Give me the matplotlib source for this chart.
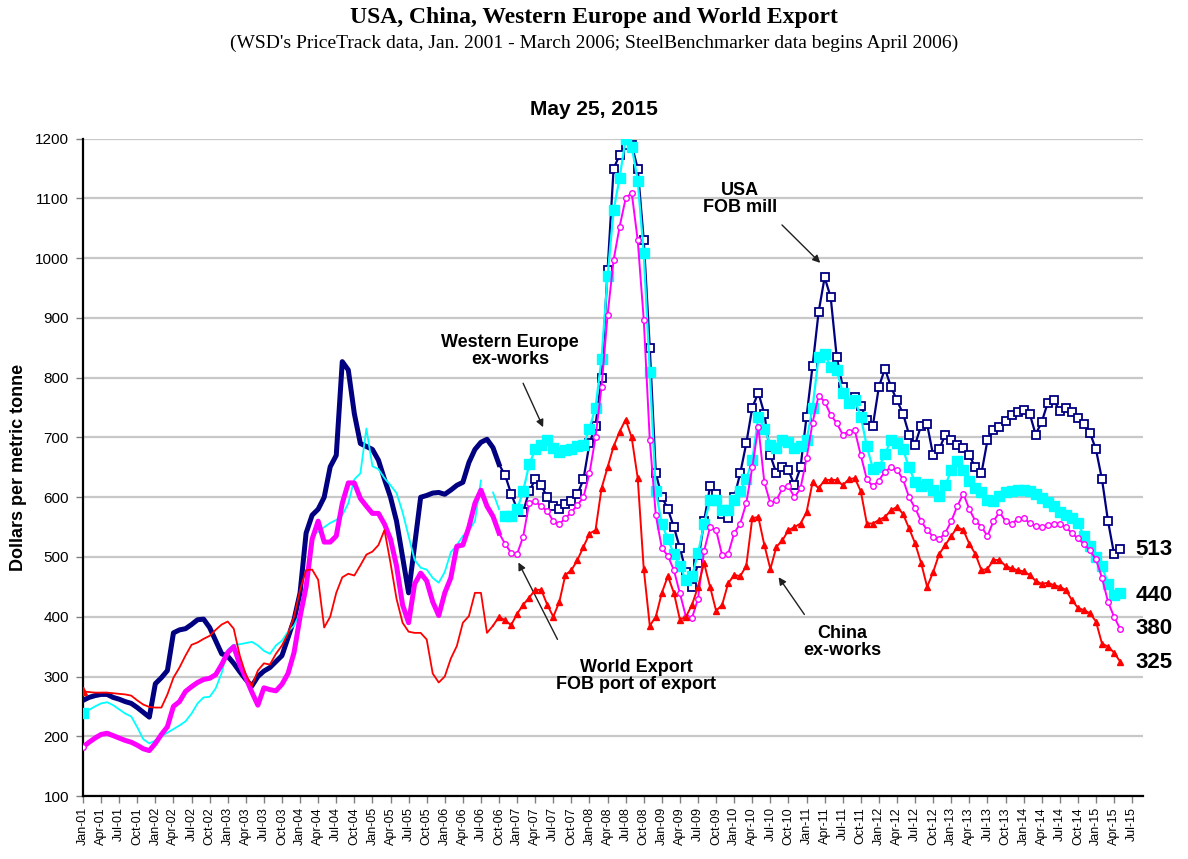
import matplotlib.pyplot as plt
import numpy as np

plt.rcParams['font.family'] = ['Liberation Sans', 'DejaVu Sans']

# monthly index: 0 = Jan-01 ... 172 = May-15
month_names = ['Jan', 'Feb', 'Mar', 'Apr', 'May', 'Jun',
               'Jul', 'Aug', 'Sep', 'Oct', 'Nov', 'Dec']
months = np.arange(173)
tick_months = np.arange(0, 175, 3)
tick_labels = ['%s-%02d' % (month_names[m % 12], m // 12 + 1) for m in tick_months]

usa = [260, 265, 268, 270, 270, 265, 262, 258, 255, 248, 240, 232,
       288, 298, 310, 373, 378, 380, 387, 395, 396, 382, 360, 338,
       334, 322, 308, 295, 284, 300, 309, 315, 325, 335, 365, 395,
       440, 540, 570, 580, 600, 651, 670, 827, 813, 740, 690, 685,
       680, 662, 630, 600, 560, 500, 440, 520, 600, 603, 607, 608,
       605, 612, 620, 625, 658, 680, 692, 697, 683, 655, 637, 606,
       580, 576, 610, 630, 620, 600, 585, 580, 588, 594, 605, 630,
       690, 720, 800, 980, 1150, 1173, 1189, 1190, 1150, 1030, 850, 640,
       601, 580, 550, 515, 475, 450, 490, 560, 618, 605, 572, 565,
       600, 640, 690, 750, 775, 740, 670, 640, 650, 645, 620, 650,
       735, 820, 910, 968, 935, 835, 785, 757, 768, 752, 730, 720,
       785, 815, 785, 762, 740, 705, 688, 720, 722, 670, 680, 705,
       695, 688, 682, 670, 650, 640, 695, 712, 718, 728, 738, 742,
       746, 740, 705, 726, 758, 762, 745, 750, 742, 732, 722, 708,
       680, 630, 560, 505, 513]

w_europe = [239, 244, 250, 255, 257, 252, 245, 238, 233, 215, 195, 188,
            193, 200, 206, 212, 218, 225, 238, 255, 265, 266, 280, 306,
            345, 353, 354, 356, 358, 352, 343, 338, 352, 360, 375, 385,
            406, 455, 536, 542, 550, 557, 562, 570, 590, 630, 640, 715,
            652, 647, 632, 620, 607, 575, 535, 495, 482, 479, 465, 457,
            475, 508, 520, 535, 545, 560, 628, np.nan, 608, 580, 568, 568,
            580, 610, 655, 680, 688, 695, 682, 676, 679, 681, 685, 687,
            715, 750, 832, 970, 1080, 1135, 1200, 1187, 1130, 1008, 810, 610,
            555, 530, 505, 485, 461, 468, 506, 555, 595, 595, 578, 578,
            595, 610, 630, 662, 735, 715, 688, 682, 695, 692, 682, 685,
            695, 750, 835, 840, 818, 813, 775, 758, 763, 735, 685, 648,
            650, 672, 696, 690, 680, 650, 625, 618, 622, 612, 602, 620,
            645, 660, 645, 628, 615, 608, 595, 593, 602, 608, 610, 612,
            612, 610, 606, 598, 592, 585, 575, 570, 565, 557, 535, 518,
            500, 485, 455, 437, 440]

world_export = [182, 190, 197, 203, 205, 201, 197, 193, 190, 185, 179, 176,
                188, 203, 216, 250, 258, 275, 283, 290, 295, 297, 303, 320,
                340, 350, 320, 298, 274, 252, 281, 278, 276, 287, 305, 340,
                400, 450, 530, 560, 525, 525, 535, 590, 624, 624, 598, 585,
                573, 573, 555, 530, 485, 420, 390, 455, 473, 460, 425, 402,
                440, 465, 518, 520, 550, 590, 612, 585, 568, 540, 522, 507,
                505, 534, 590, 593, 585, 577, 560, 555, 565, 575, 587, 600,
                640, 700, 785, 905, 997, 1053, 1100, 1110, 1030, 897, 696, 570,
                515, 502, 478, 439, 400, 398, 430, 510, 550, 545, 503, 505,
                540, 556, 590, 650, 718, 625, 590, 595, 615, 618, 600, 615,
                665, 725, 770, 760, 738, 724, 705, 710, 712, 670, 630, 618,
                628, 643, 650, 646, 630, 600, 582, 560, 545, 534, 530, 540,
                560, 585, 606, 580, 560, 551, 535, 560, 575, 560, 556, 563,
                565, 557, 552, 551, 553, 555, 556, 550, 540, 531, 522, 511,
                496, 465, 425, 400, 380]

china = [275, 274, 273, 273, 273, 272, 271, 270, 268, 260, 253, 249,
         248, 248, 270, 298, 315, 335, 353, 357, 363, 368, 378, 387,
         392, 380, 335, 303, 284, 310, 322, 320, 338, 352, 372, 400,
         445, 478, 479, 462, 382, 400, 440, 466, 472, 469, 486, 504,
         509, 520, 545, 490, 430, 390, 375, 373, 373, 362, 305, 290,
         300, 330, 351, 390, 401, 440, 440, 373, 385, 400, 394, 386,
         405, 420, 432, 445, 445, 420, 400, 425, 470, 478, 495, 517,
         539, 545, 615, 650, 685, 710, 730, 700, 632, 480, 385, 400,
         440, 468, 440, 395, 400, 420, 450, 490, 450, 410, 420, 456,
         470, 468, 485, 565, 567, 520, 480, 517, 528, 545, 550, 556,
         575, 625, 615, 629, 629, 629, 620, 630, 632, 610, 556, 556,
         562, 567, 578, 584, 572, 548, 523, 490, 450, 475, 505, 520,
         535, 550, 545, 522, 505, 478, 480, 495, 495, 485, 481, 478,
         476, 470, 460, 455, 457, 453, 450, 445, 428, 415, 411, 406,
         392, 355, 350, 340, 325]

end_labels = ['513', '440', '380', '325']
end_label_y = [513, 435, 380, 323]

usa = np.array(usa, dtype=float)
w_europe = np.array(w_europe, dtype=float)
world_export = np.array(world_export, dtype=float)
china = np.array(china, dtype=float)

fig = plt.figure(figsize=(11.88, 8.59), dpi=100)
ax = fig.add_axes([83 / 1188, 1 - 796 / 859, 1060 / 1188, (796 - 138.75) / 859])

navy = '#000080'
cyan = '#00FFFF'
magenta = '#FF00FF'
red = '#FF0000'

# USA: thick line (WSD), then hollow squares (SteelBenchmarker)
ax.plot(months[:70], usa[:70], color=navy, lw=3.6, solid_joinstyle='round', zorder=3)
ax.plot(months[69:], usa[69:], color=navy, lw=1.6, marker='s', ms=5.5,
        mfc='white', mec=navy, mew=1.3, markevery=slice(1, None), zorder=3)

# Western Europe
ax.plot(months[:70], w_europe[:70], color=cyan, lw=1.3, zorder=4)
ax.plot(months[:1], w_europe[:1], color=cyan, marker='s', ms=6.5, ls='none', zorder=4)
ax.plot(months[70:], w_europe[70:], color=cyan, lw=1.6, marker='s', ms=6.5,
        mfc=cyan, mec=cyan, zorder=4)

# World export
ax.plot(months[:70], world_export[:70], color=magenta, lw=3.6, solid_joinstyle='round', zorder=5)
ax.plot(months[:1], world_export[:1], color=magenta, marker='o', ms=4, mfc='white',
        mec=magenta, ls='none', zorder=5)
ax.plot(months[69:], world_export[69:], color=magenta, lw=1.4, marker='o', ms=4,
        mfc='white', mec=magenta, mew=1.0, markevery=slice(1, None), zorder=5)

# China
ax.plot(months[:69], china[:69], color=red, lw=1.3, zorder=6)
ax.plot(months[:1], china[:1], color=red, marker='^', ms=5.5, ls='none', zorder=6)
ax.plot(months[68:], china[68:], color=red, lw=1.4, marker='^', ms=5,
        mfc=red, mec=red, markevery=slice(1, None), zorder=6)

ax.set_xlim(0, 175.8)
ax.set_ylim(100, 1200)
ax.set_yticks(np.arange(100, 1201, 100))
ax.set_xticks(tick_months)
ax.set_xticklabels(tick_labels, rotation=90, fontsize=9)
ax.tick_params(axis='x', direction='out', length=5, width=1, color='#808080', pad=3)
ax.tick_params(axis='y', direction='out', length=5, width=1, color='#808080',
               labelsize=11, pad=5)
ax.yaxis.grid(True, color='#c8c8c8', lw=1.6)
ax.set_axisbelow(True)
for s in ['top', 'right']:
    ax.spines[s].set_visible(False)
for s in ['left', 'bottom']:
    ax.spines[s].set_linewidth(1.6)
    ax.spines[s].set_color('black')

ax.set_ylabel('Dollars per metric tonne', fontsize=13, fontweight='bold', labelpad=6)

# series annotations
lab = dict(fontsize=13, fontweight='bold', ha='center', va='center', linespacing=1.05)
ax.text(109, 1099, 'USA\nFOB mill', **lab)
ax.text(70.8, 845, 'Western Europe\nex-works', **lab)
ax.text(91.7, 301, 'World Export\nFOB port of export', **lab)
ax.text(126, 358, 'China\nex-works', **lab)

arr = dict(arrowstyle='-|>', color='#202020', lw=1.0, mutation_scale=11)
ax.annotate('', xy=(122.6, 989), xytext=(115.6, 1059), arrowprops=arr)
ax.annotate('', xy=(76.5, 713), xytext=(72.8, 795), arrowprops=arr)
ax.annotate('', xy=(72.0, 495), xytext=(78.9, 358), arrowprops=arr)
ax.annotate('', xy=(115.1, 470), xytext=(119.9, 400), arrowprops=arr)

for t, y in zip(end_labels, end_label_y):
    ax.text(174.6, y, t, fontsize=16, fontweight='bold', ha='left', va='center')

fig.text(0.5, 0.980, 'USA, China, Western Europe and World Export',
         family='Liberation Serif', fontweight='bold', fontsize=17, ha='center', va='center')
fig.text(0.5, 0.950, "(WSD's PriceTrack data, Jan. 2001 - March 2006; "
         "SteelBenchmarker data begins April 2006)",
         family='Liberation Serif', fontsize=14, ha='center', va='center')
fig.text(0.5, 0.872, 'May 25, 2015', fontsize=15, fontweight='bold', ha='center', va='center')

fig.savefig('out.png', dpi=100)
